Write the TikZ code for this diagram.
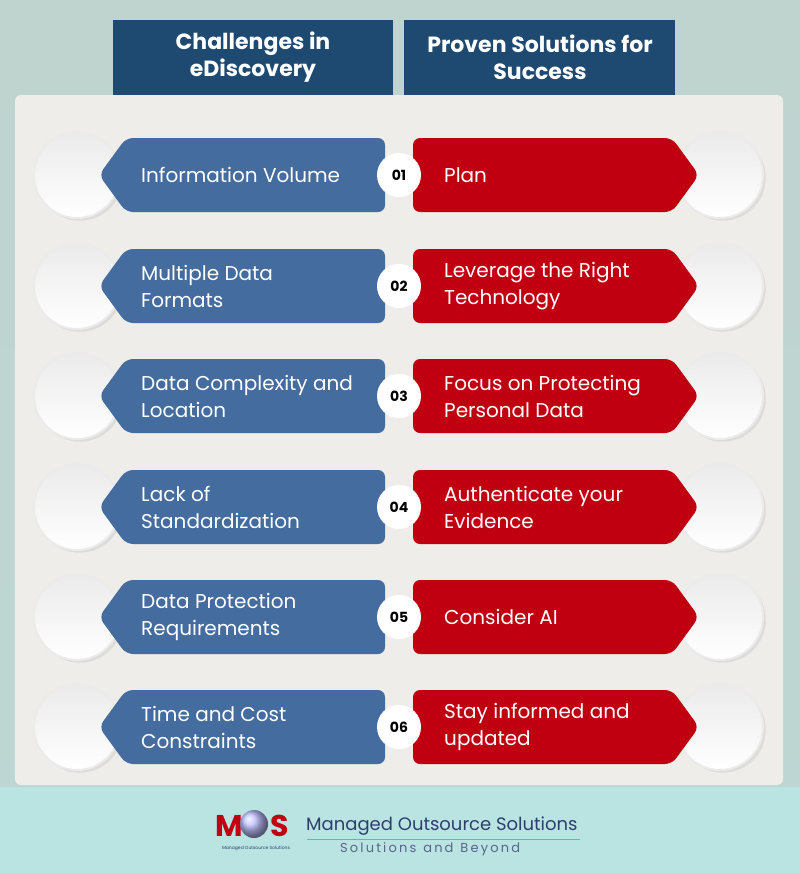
\documentclass[tikz,border=0pt]{standalone}
\usepackage{fontspec}
\setmainfont{Poppins}
\usetikzlibrary{shadows}
\definecolor{bgtop}{HTML}{BFD3CF}
\definecolor{bgband}{HTML}{B9E4E1}
\definecolor{panel}{HTML}{EEEDE9}
\definecolor{hdr}{HTML}{1E4A72}
\definecolor{blu}{HTML}{456C9E}
\definecolor{rd}{HTML}{C00010}
\definecolor{logob}{HTML}{2E3F6E}
\tikzset{
  ctext/.style={text=white,font=\fontsize{20}{27}\selectfont,align=left,anchor=west},
  htext/.style={text=white,font=\bfseries\fontsize{22}{27}\selectfont,align=center},
  numc/.style={circle,fill=white,minimum size=44pt,inner sep=0pt,font=\bfseries\fontsize{14}{16}\selectfont},
  bubble/.style={circle,minimum size=86pt,inner sep=0pt,draw=black!8,line width=2pt,top color=black!8,bottom color=white,drop shadow={opacity=0.15}},
}
\begin{document}
\begin{tikzpicture}[x=1pt,y=-1pt]
\useasboundingbox (0,0) rectangle (800,873);
\fill[top color=bgtop,bottom color=bgtop!80!bgband] (0,0) rectangle (800,787);
\fill[bgband] (0,787) rectangle (800,873);
\fill[hdr] (113,20) rectangle (393,95);
\fill[hdr] (404,20) rectangle (675,95);
\node[htext] (h1) at (253,57) {Challenges in\\eDiscovery};
\node[htext] (h2) at (540,57) {Proven Solutions for\\Success};
\fill[panel,rounded corners=6pt] (15,95) rectangle (783,785);
\foreach \y/\l/\r/\n in {
 175/{Information Volume}/{Plan}/01,
 286/{Multiple Data\\Formats}/{Leverage the Right\\Technology}/02,
 396/{Data Complexity and\\Location}/{Focus on Protecting\\Personal Data}/03,
 507/{Lack of\\Standardization}/{Authenticate your\\Evidence}/04,
 617/{Data Protection\\Requirements}/{Consider AI}/05,
 727/{Time and Cost\\Constraints}/{Stay informed and\\updated}/06}{
  \node[bubble] (lb\n) at (77,\y) {};
  \node[bubble] (rb\n) at (720,\y) {};
  \fill[blu,rounded corners=7pt] (99,\y) -- (126,\y-37) -- (385,\y-37) -- (385,\y+37) -- (126,\y+37) -- cycle;
  \fill[rd,rounded corners=7pt] (413,\y-37) -- (672,\y-37) -- (699,\y) -- (672,\y+37) -- (413,\y+37) -- cycle;
  \node[ctext,inner sep=0pt] (l\n) at (141,\y) {\l};
  \node[ctext,inner sep=0pt] (r\n) at (444,\y) {\r};
  \node[numc] (n\n) at (399,\y) {\n};
}
% logo
\node[text=rd,font=\bfseries\fontsize{30}{30}\selectfont,inner sep=0pt] (lm) at (229,826) {M};
\node[circle,minimum size=28pt,inner sep=0pt,ball color=blue!25!white] (globe) at (254,824) {};
\node[text=rd,font=\bfseries\fontsize{30}{30}\selectfont,inner sep=0pt] (ls) at (280,826) {S};
\node[text=logob,font=\fontsize{4.5}{5}\selectfont,inner sep=0pt] (lsub) at (256,848) {Managed Outsource Solutions};
\node[text=logob,font=\fontsize{18}{20}\selectfont,anchor=west,inner sep=0pt] (lt) at (306,826) {Managed Outsource Solutions};
\draw[rd!50,line width=0.6pt] (307,839) -- (580,839);
\node[text=logob!80,font=\fontsize{13}{15}\selectfont,anchor=west,inner sep=0pt] (lt2) at (340,849) {S\,o\,l\,u\,t\,i\,o\,n\,s\ \ a\,n\,d\ \ B\,e\,y\,o\,n\,d};
\end{tikzpicture}
\end{document}
